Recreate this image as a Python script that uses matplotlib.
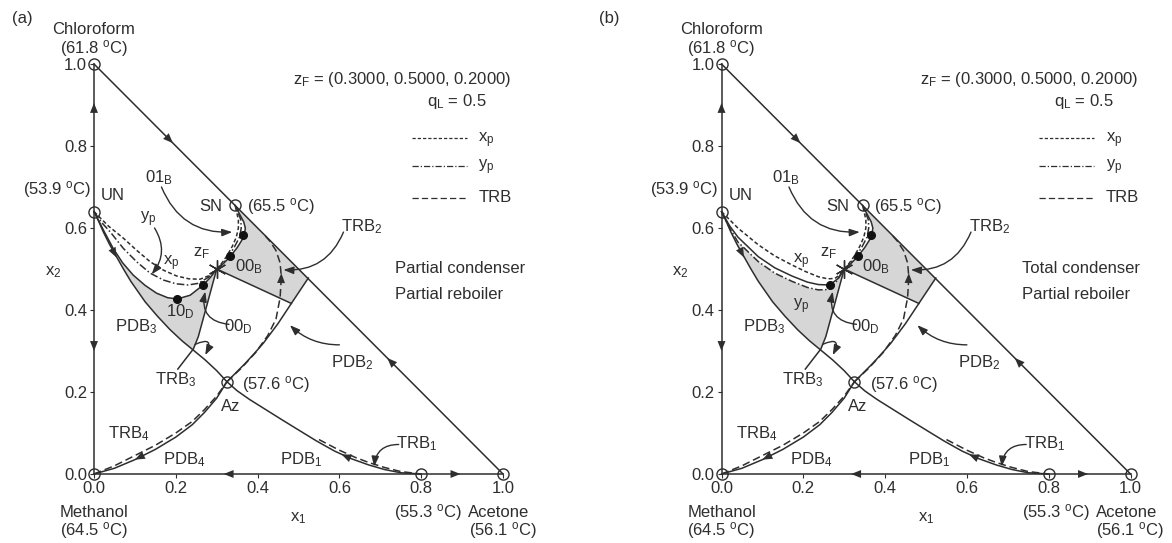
import numpy as np
import matplotlib.pyplot as plt

plt.rcParams['font.family'] = ['Liberation Sans', 'DejaVu Sans']
plt.rcParams['font.size'] = 12
plt.rcParams['mathtext.default'] = 'regular'

ink = '#2e2e2e'
gray = '#d6d6d6'

# singular points (x1, x2)
un = (0.0, 0.64)
sn = (0.345, 0.655)
az = (0.325, 0.225)
zf = (0.30, 0.50)
circles_x = [0.0, 0.0, 1.0, 0.8, 0.0, 0.345, 0.325]
circles_y = [1.0, 0.0, 0.0, 0.0, 0.64, 0.655, 0.225]

# distillation boundaries
pdb3_x = [0.0, 0.012, 0.023, 0.038, 0.055, 0.072, 0.09, 0.125, 0.155, 0.186, 0.215, 0.243, 0.272, 0.30, 0.325]
pdb3_y = [0.64, 0.615, 0.59, 0.56, 0.53, 0.50, 0.47, 0.42, 0.385, 0.352, 0.325, 0.302, 0.278, 0.252, 0.225]
pdb1_x = [0.325, 0.35, 0.38, 0.42, 0.46, 0.504, 0.545, 0.588, 0.63, 0.672, 0.71, 0.75, 0.8]
pdb1_y = [0.225, 0.203, 0.182, 0.157, 0.132, 0.105, 0.08, 0.056, 0.037, 0.022, 0.011, 0.003, 0.0]
pdb4_x = [0.0, 0.05, 0.1, 0.15, 0.2, 0.24, 0.27, 0.3, 0.325]
pdb4_y = [0.0, 0.014, 0.035, 0.06, 0.09, 0.12, 0.15, 0.185, 0.225]
pdb2_x = [0.325, 0.35, 0.37, 0.392, 0.414, 0.45, 0.4825, 0.524]
pdb2_y = [0.225, 0.25, 0.27, 0.294, 0.319, 0.367, 0.416, 0.478]

# total reflux boundaries (dashed)
trb2_x = [0.325, 0.36, 0.395, 0.425, 0.445, 0.455, 0.458, 0.455, 0.445, 0.43, 0.415]
trb2_y = [0.225, 0.258, 0.296, 0.338, 0.378, 0.43, 0.48, 0.515, 0.545, 0.568, 0.585]
trb4_x = [0.0, 0.05, 0.1, 0.15, 0.2, 0.24, 0.27, 0.3, 0.325]
trb4_y = [0.0, 0.02, 0.045, 0.07, 0.1, 0.128, 0.157, 0.19, 0.225]
trb1_x = [0.55, 0.6, 0.64, 0.672, 0.71, 0.75, 0.8]
trb1_y = [0.084, 0.058, 0.04, 0.028, 0.016, 0.006, 0.0]

# boundary from zF towards PDB3
zline_x = [0.30, 0.275, 0.255, 0.243, 0.222, 0.205]
zline_y = [0.50, 0.408, 0.335, 0.305, 0.278, 0.256]
# boundary from zF towards PDB2
zline2_x = [0.30, 0.4825]
zline2_y = [0.50, 0.416]

# pinch curves, branch zF -> SN (shared)
right_solid_x = [0.30, 0.315, 0.331, 0.35, 0.367, 0.37, 0.366, 0.359, 0.345]
right_solid_y = [0.50, 0.512, 0.528, 0.552, 0.579, 0.60, 0.615, 0.628, 0.655]
right_xp_x = [0.30, 0.313, 0.325, 0.338, 0.348, 0.353, 0.353, 0.349, 0.345]
right_xp_y = [0.50, 0.515, 0.532, 0.555, 0.578, 0.60, 0.62, 0.638, 0.655]
right_yp_x = [0.30, 0.314, 0.328, 0.343, 0.356, 0.36, 0.359, 0.352, 0.345]
right_yp_y = [0.50, 0.513, 0.53, 0.553, 0.578, 0.60, 0.62, 0.638, 0.655]

# panel (a), partial condenser: left branch UN -> zF
a_xp_x = [0.0, 0.035, 0.072, 0.105, 0.137, 0.17, 0.202, 0.232, 0.259, 0.282, 0.30]
a_xp_y = [0.64, 0.605, 0.575, 0.545, 0.518, 0.497, 0.483, 0.476, 0.475, 0.484, 0.50]
a_yp_x = [0.0, 0.02, 0.04, 0.072, 0.105, 0.137, 0.17, 0.2, 0.23, 0.255, 0.28, 0.30]
a_yp_y = [0.64, 0.612, 0.59, 0.55, 0.517, 0.49, 0.473, 0.464, 0.461, 0.465, 0.48, 0.50]
a_sol_x = [0.0, 0.012, 0.023, 0.047, 0.07, 0.096, 0.125, 0.153, 0.18, 0.204, 0.235, 0.267, 0.285, 0.30]
a_sol_y = [0.64, 0.617, 0.595, 0.55, 0.515, 0.485, 0.46, 0.441, 0.43, 0.427, 0.436, 0.461, 0.48, 0.50]
a_dots_x = [0.202, 0.267, 0.333, 0.365]
a_dots_y = [0.428, 0.462, 0.531, 0.584]

# panel (b), total condenser: left branch UN -> zF
b_xp_x = [0.0, 0.04, 0.09, 0.13, 0.172, 0.205, 0.237, 0.26, 0.277, 0.29, 0.30]
b_xp_y = [0.64, 0.60, 0.559, 0.532, 0.51, 0.494, 0.481, 0.476, 0.477, 0.486, 0.50]
b_sol_x = [0.0, 0.02, 0.04, 0.09, 0.13, 0.172, 0.21, 0.237, 0.265, 0.285, 0.30]
b_sol_y = [0.64, 0.605, 0.578, 0.53, 0.503, 0.483, 0.468, 0.462, 0.461, 0.477, 0.50]
b_yp_x = [0.0, 0.02, 0.04, 0.09, 0.13, 0.172, 0.21, 0.237, 0.262, 0.28, 0.30]
b_yp_y = [0.64, 0.6, 0.566, 0.518, 0.49, 0.47, 0.455, 0.449, 0.45, 0.468, 0.50]
b_dots_x = [0.265, 0.333, 0.365]
b_dots_y = [0.461, 0.531, 0.584]

ticks = [0.0, 0.2, 0.4, 0.6, 0.8, 1.0]
tick_labels = ['0.0', '0.2', '0.4', '0.6', '0.8', '1.0']

LW = 1.1
DASH_X = (0, (2.6, 1.6))
DASH_Y = (0, (5, 1.6, 1, 1.6))
DASH_T = (0, (5, 2.5))


def head(ax, p, q, ms=13):
    ax.annotate('', xy=q, xytext=p,
                arrowprops=dict(arrowstyle='-|>,head_length=0.55,head_width=0.22',
                                color=ink, lw=0, shrinkA=0, shrinkB=0,
                                mutation_scale=ms))


def leader(ax, p, q, rad):
    ax.annotate('', xy=q, xytext=p,
                arrowprops=dict(arrowstyle='-|>,head_length=0.55,head_width=0.2',
                                color=ink, lw=1.0, shrinkA=0, shrinkB=0,
                                mutation_scale=11,
                                connectionstyle='arc3,rad=%s' % rad))


def panel(ax, tag, cond, xp_x, xp_y, yp_x, yp_y, sol_x, sol_y, dots_x, dots_y, top_x, top_y):
    ax.set_xlim(-0.2, 1.2)
    ax.set_ylim(-0.16, 1.16)
    for s in ['top', 'right']:
        ax.spines[s].set_visible(False)
    for s in ['left', 'bottom']:
        ax.spines[s].set_position(('data', 0))
        ax.spines[s].set_bounds(0, 1)
        ax.spines[s].set_color(ink)
        ax.spines[s].set_linewidth(LW)
    ax.set_xticks(ticks)
    ax.set_xticklabels(tick_labels)
    ax.set_yticks(ticks)
    ax.set_yticklabels(tick_labels)
    ax.tick_params(colors=ink, length=3, width=0.8, labelsize=12, pad=2)
    ax.patch.set_alpha(0)

    # shaded regions
    gx = list(top_x) + zline_x[1:4] + pdb3_x[11::-1]
    gy = list(top_y) + zline_y[1:4] + pdb3_y[11::-1]
    ax.fill(gx, gy, color=gray, lw=0, zorder=0)
    rx = zline2_x + [0.524, 0.345] + right_solid_x[::-1]
    ry = zline2_y + [0.478, 0.655] + right_solid_y[::-1]
    ax.fill(rx, ry, color=gray, lw=0, zorder=0)

    # hypotenuse
    ax.plot([0, 1], [1, 0], color=ink, lw=LW)
    # boundaries
    for xs, ys in [(pdb3_x, pdb3_y), (pdb1_x, pdb1_y), (pdb4_x, pdb4_y), (pdb2_x, pdb2_y),
                   (zline_x, zline_y), (zline2_x, zline2_y), (sol_x, sol_y),
                   (right_solid_x, right_solid_y)]:
        ax.plot(xs, ys, color=ink, lw=LW)
    for xs, ys in [(trb2_x, trb2_y), (trb4_x, trb4_y), (trb1_x, trb1_y)]:
        ax.plot(xs, ys, color=ink, lw=LW, linestyle=DASH_T)
    ax.plot(xp_x, xp_y, color=ink, lw=LW, linestyle=DASH_X)
    ax.plot(right_xp_x, right_xp_y, color=ink, lw=LW, linestyle=DASH_X)
    ax.plot(yp_x, yp_y, color=ink, lw=LW, linestyle=DASH_Y)
    ax.plot(right_yp_x, right_yp_y, color=ink, lw=LW, linestyle=DASH_Y)

    # points
    ax.plot(circles_x, circles_y, 'o', ms=8, mfc='none', mec=ink, mew=1.0, clip_on=False)
    ax.plot(dots_x, dots_y, 'o', ms=5.5, color='#111111')
    ax.plot([zf[0]], [zf[1]], marker=(6, 2, 0), ms=13, color=ink, mew=1.0)

    # direction arrows
    for p, q in [((0, 0.87), (0, 0.905)), ((0, 0.335), (0, 0.30)),
                 ((0.35, 0), (0.317, 0)), ((0.86, 0), (0.896, 0)),
                 ((0.17, 0.83), (0.193, 0.807)), ((0.74, 0.26), (0.717, 0.283)),
                 ((0.04, 0.558), (0.055, 0.528)), ((0.63, 0.037), (0.605, 0.048)),
                 ((0.13, 0.05), (0.1, 0.035)), ((0.457, 0.455), (0.458, 0.49))]:
        head(ax, p, q)

    # leaders
    leader(ax, (0.165, 0.70), (0.338, 0.59), 0.35)
    leader(ax, (0.61, 0.59), (0.463, 0.498), -0.35)
    leader(ax, (0.33, 0.365), (0.272, 0.445), -0.55)
    leader(ax, (0.6, 0.315), (0.479, 0.363), -0.2)
    leader(ax, (0.745, 0.072), (0.685, 0.018), 0.45)
    leader(ax, (0.247, 0.316), (0.272, 0.29), -1.4)

    kw = dict(ha='center', va='center', color=ink, fontsize=12)
    ax.text(-0.2 if tag == '(a)' else -0.3, 1.112, tag, ha='left', va='center', color=ink, fontsize=12)
    ax.text(0, 1.083, 'Chloroform', **kw)
    ax.text(0, 1.039, '(61.8 $^o$C)', **kw)
    ax.text(0, -0.093, 'Methanol', **kw)
    ax.text(0, -0.139, '(64.5 $^o$C)', **kw)
    ax.text(0.99, -0.093, 'Acetone', **kw)
    ax.text(1.0, -0.139, '(56.1 $^o$C)', **kw)
    ax.text(0.817, -0.093, '(55.3 $^o$C)', **kw)
    ax.text(0.5, -0.107, 'x$_1$', **kw)
    ax.text(-0.1, 0.493, 'x$_2$', **kw)
    ax.text(-0.008, 0.695, '(53.9 $^o$C)', ha='right', va='center', color=ink, fontsize=12)
    ax.text(0.046, 0.68, 'UN', **kw)
    ax.text(0.285, 0.652, 'SN', **kw)
    ax.text(0.457, 0.652, '(65.5 $^o$C)', **kw)
    ax.text(0.334, 0.165, 'Az', **kw)
    ax.text(0.446, 0.219, '(57.6 $^o$C)', **kw)
    ax.text(0.199, 0.229, 'TRB$_3$', **kw)
    ax.text(0.104, 0.359, 'PDB$_3$', **kw)
    ax.text(0.086, 0.099, 'TRB$_4$', **kw)
    ax.text(0.22, 0.034, 'PDB$_4$', **kw)
    ax.text(0.507, 0.034, 'PDB$_1$', **kw)
    ax.text(0.79, 0.075, 'TRB$_1$', **kw)
    ax.text(0.63, 0.271, 'PDB$_2$', **kw)
    ax.text(0.655, 0.603, 'TRB$_2$', **kw)
    ax.text(0.158, 0.722, '01$_B$', **kw)
    ax.text(0.352, 0.36, '00$_D$', **kw)
    ax.text(0.378, 0.505, '00$_B$', **kw)
    ax.text(0.263, 0.538, 'z$_F$', **kw)
    if tag == '(a)':
        ax.text(0.19, 0.515, 'x$_p$', **kw)
        ax.text(0.132, 0.622, 'y$_p$', **kw)
        ax.text(0.212, 0.396, '10$_D$', **kw)
        leader(ax, (0.148, 0.6), (0.141, 0.487), -0.35)
    else:
        ax.text(0.196, 0.518, 'x$_p$', **kw)
        ax.text(0.196, 0.41, 'y$_p$', **kw)

    ax.text(0.753, 0.961, 'z$_F$ = (0.3000, 0.5000, 0.2000)', **kw)
    ax.text(0.887, 0.908, 'q$_L$ = 0.5', **kw)
    ax.plot([0.777, 0.911], [0.819, 0.819], color=ink, lw=0.9, linestyle=DASH_X)
    ax.plot([0.777, 0.911], [0.752, 0.752], color=ink, lw=0.9, linestyle=DASH_Y)
    ax.plot([0.777, 0.911], [0.674, 0.674], color=ink, lw=0.9, linestyle=DASH_T)
    lk = dict(ha='left', va='center', color=ink, fontsize=12)
    ax.text(0.94, 0.815, 'x$_p$', **lk)
    ax.text(0.94, 0.748, 'y$_p$', **lk)
    ax.text(0.94, 0.674, 'TRB', **lk)
    ax.text(0.735, 0.501, cond, **lk)
    ax.text(0.735, 0.437, 'Partial reboiler', **lk)


fig = plt.figure(figsize=(11.72, 5.43), dpi=100)
ax1 = fig.add_axes([12.2 / 1172, 3.4 / 543, 572.6 / 1172, 541.2 / 543])
ax2 = fig.add_axes([639.7 / 1172, 3.4 / 543, 572.6 / 1172, 541.2 / 543])

panel(ax1, '(a)', 'Partial condenser', a_xp_x, a_xp_y, a_yp_x, a_yp_y,
      a_sol_x, a_sol_y, a_dots_x, a_dots_y, a_sol_x, a_sol_y)
panel(ax2, '(b)', 'Total condenser', b_xp_x, b_xp_y, b_yp_x, b_yp_y,
      b_sol_x, b_sol_y, b_dots_x, b_dots_y, b_yp_x, b_yp_y)

fig.savefig('out.png', dpi=100)
